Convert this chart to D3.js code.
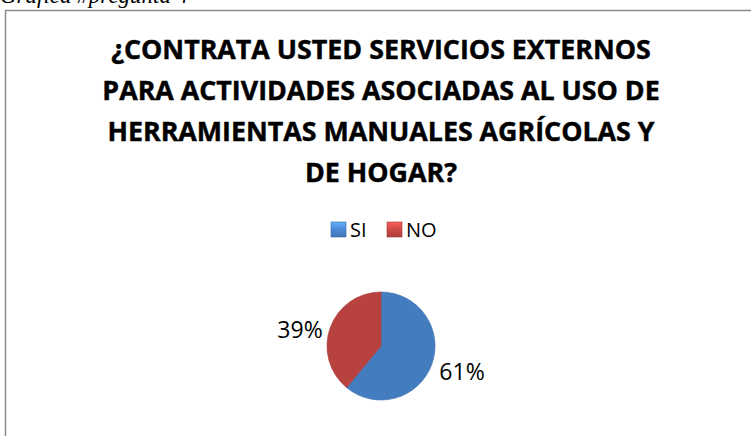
<!DOCTYPE html>
<html>
<head>
<meta charset="utf-8">
<script src="https://cdn.jsdelivr.net/npm/d3@7"></script>
<style>
  html, body { margin: 0; padding: 0; background: #fff; overflow: hidden; }
  svg { display: block; }
</style>
</head>
<body>
<svg id="chart" width="751" height="436"></svg>
<script>
const categories = ["SI", "NO"]
const values = [61, 39]
const labels = ["61%", "39%"]
const colors = ["#4d8cd9", "#d04b47"]
const titleLines = [
  "¿CONTRATA USTED SERVICIOS EXTERNOS",
  "PARA ACTIVIDADES ASOCIADAS AL USO DE",
  "HERRAMIENTAS MANUALES AGRÍCOLAS Y",
  "DE HOGAR?",
]

const svg = d3.select("#chart")
const width = 751, height = 436
const font = "'Open Sans', 'Liberation Sans', sans-serif"

const defs = svg.append("defs")

// caption above the frame, mostly cut off by the window top (as in the original)
svg.append("text")
  .attr("x", 0).attr("y", 3)
  .attr("font-family", "'Liberation Serif', 'DejaVu Serif', serif")
  .attr("font-style", "italic")
  .attr("font-size", 23)
  .attr("fill", "#000")
  .text("Gráfica  #pregunta 4")

// chart frame
svg.append("path")
  .attr("d", `M5.5,${height + 5} V10.5 H${width + 5}`)
  .attr("fill", "none")
  .attr("stroke", "#8c8c8c")
  .attr("stroke-width", 1.5)

// title, scaled so the first line spans like in the original
const cx = 381, cy = 346
const title = svg.append("g")
  .attr("font-family", font)
  .attr("font-weight", "bold")
  .attr("text-anchor", "middle")
  .attr("fill", "#000")
  .attr("stroke", "#000")
  .attr("stroke-width", 0.45)
let fs = 24
const probe = title.append("text").attr("font-size", fs).text(titleLines[0])
const w0 = probe.node().getComputedTextLength()
probe.remove()
fs = fs * 540 / w0
title.selectAll("text")
  .data(titleLines)
  .join("text")
  .attr("x", cx)
  .attr("y", (d, i) => 59 + i * 41)
  .attr("font-size", fs)
  .text((d) => d)

// shading gradients
colors.forEach((c, i) => {
  const g = defs.append("radialGradient")
    .attr("id", "pie" + i)
    .attr("gradientUnits", "userSpaceOnUse")
    .attr("cx", cx).attr("cy", cy).attr("r", 55)
    .attr("fx", cx - 8).attr("fy", cy - 14)
  g.append("stop").attr("offset", "0%").attr("stop-color", d3.color(c).brighter(0.2).formatHex())
  g.append("stop").attr("offset", "85%").attr("stop-color", c)
  g.append("stop").attr("offset", "100%").attr("stop-color", d3.color(c).darker(0.35).formatHex())

  const lg = defs.append("linearGradient")
    .attr("id", "leg" + i)
    .attr("x1", 0).attr("y1", 0).attr("x2", 0).attr("y2", 1)
  lg.append("stop").attr("offset", "0%").attr("stop-color", d3.color(c).brighter(0.7).formatHex())
  lg.append("stop").attr("offset", "45%").attr("stop-color", c)
  lg.append("stop").attr("offset", "100%").attr("stop-color", d3.color(c).darker(0.5).formatHex())
})

// legend
const legendX = [331, 387]
const legend = svg.append("g").attr("font-family", font).attr("font-size", 20)
categories.forEach((name, i) => {
  legend.append("rect")
    .attr("x", legendX[i]).attr("y", 222)
    .attr("width", 15).attr("height", 15)
    .attr("fill", `url(#leg${i})`)
    .attr("stroke", d3.color(colors[i]).darker(0.8).formatHex())
    .attr("stroke-width", 0.6)
  legend.append("text")
    .attr("x", legendX[i] + 19).attr("y", 236.5)
    .attr("fill", "#000")
    .text(name)
})

// pie
const r = 54
const pie = d3.pie().sort(null).value((d) => d)
const arcs = pie(values)
const arc = d3.arc().innerRadius(0).outerRadius(r)
const pieG = svg.append("g").attr("transform", `translate(${cx},${cy})`)
pieG.selectAll("path")
  .data(arcs)
  .join("path")
  .attr("d", arc)
  .attr("fill", (d, i) => `url(#pie${i})`)
  .attr("stroke", (d, i) => d3.color(colors[i]).darker(0.5).formatHex())
  .attr("stroke-width", 0.7)

// outside labels, anchored next to the rim
const labelArc = d3.arc().innerRadius(r + 8).outerRadius(r + 8)
const mid = (d) => (d.startAngle + d.endAngle) / 2
pieG.selectAll("text")
  .data(arcs)
  .join("text")
  .attr("transform", (d) => {
    const [x, y] = labelArc.centroid(d)
    return `translate(${x},${y + 5})`
  })
  .attr("text-anchor", (d) => (mid(d) > Math.PI ? "end" : "start"))
  .attr("dy", "0.35em")
  .attr("font-family", font)
  .attr("font-size", 23)
  .attr("fill", "#000")
  .text((d, i) => labels[i])
</script>
</body>
</html>
